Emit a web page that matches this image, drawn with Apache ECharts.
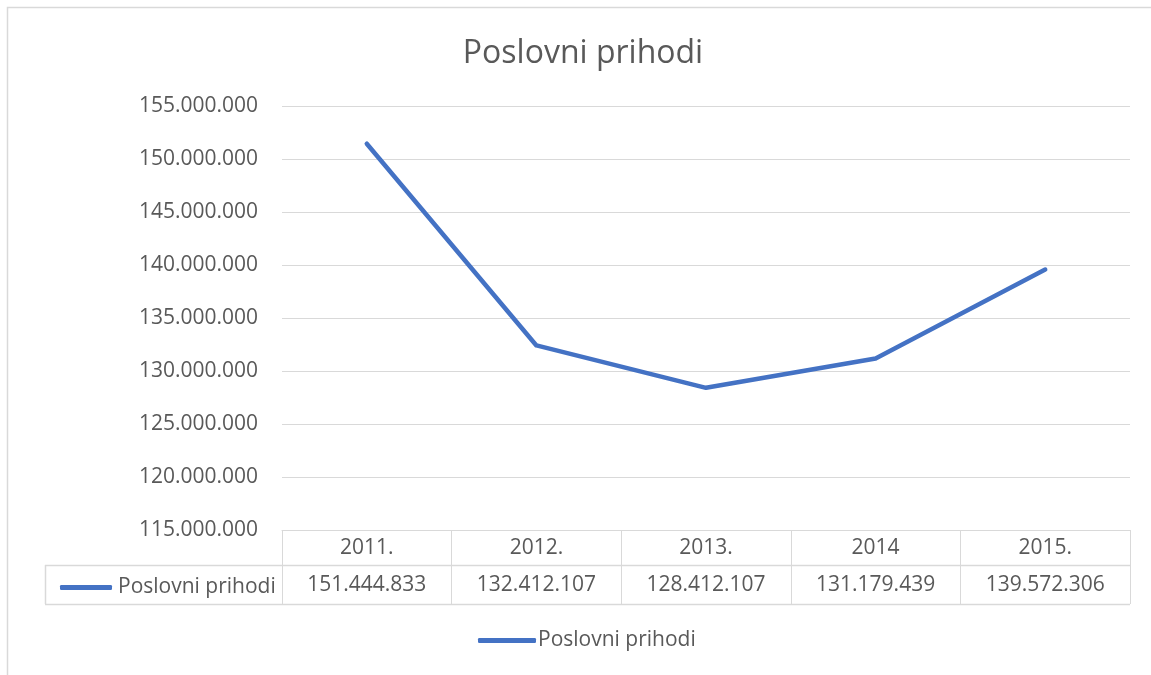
<!DOCTYPE html>
<html>
<head>
<meta charset="utf-8">
<script src="https://cdn.jsdelivr.net/npm/echarts@6/dist/echarts.min.js"></script>
<style>
  html, body { margin: 0; padding: 0; background: #fff; }
  #chart { width: 1151px; height: 675px; }
</style>
</head>
<body>
<div id="chart"></div>
<script>
const seriesName = "Poslovni prihodi";
const years = ["2011.", "2012.", "2013.", "2014", "2015."];
const values = [151444833, 132412107, 128412107, 131179439, 139572306];
const yMin = 115000000;
const yMax = 155000000;
const yStep = 5000000;

const FONT = "'Open Sans', 'Noto Sans', sans-serif";
const TEXT = "#595959";
const RULE = "#d9d9d9";
const BLUE = "#4472C4";
const FS = 21;

// 151444833 -> "151.444.833"
const dots = (v) => String(Math.round(v)).replace(/\B(?=(\d{3})+(?!\d))/g, ".");

// layout of the plot area (px)
const G = { left: 282, right: 21, top: 106, bottom: 145 };
const plotRight = 1151 - G.right;
const axisY = 675 - G.bottom;
const row1 = axisY + 35;
const row2 = axisY + 74;
const tableLeft = 45;

const chart = echarts.init(document.getElementById("chart"), null, { renderer: "canvas" });

chart.setOption({
  animation: false,
  backgroundColor: "#fff",
  textStyle: { fontFamily: FONT },
  title: {
    text: seriesName,
    left: 578,
    textAlign: "center",
    top: 33,
    textStyle: { fontSize: 32, fontWeight: "normal", color: TEXT, fontFamily: FONT },
  },
  grid: { left: G.left, right: G.right, top: G.top, bottom: G.bottom, containLabel: false },
  legend: [
    {
      data: [seriesName],
      bottom: 19,
      left: 473,
      icon: "roundRect",
      itemWidth: 58,
      itemHeight: 5,
      textStyle: { fontSize: FS, color: TEXT, fontFamily: FONT, padding: [0, 0, 0, -3] },
      selectedMode: false,
    },
    {
      data: [seriesName],
      top: row1 + 7,
      left: 55,
      icon: "roundRect",
      itemWidth: 52,
      itemHeight: 5,
      textStyle: { fontSize: FS, color: TEXT, fontFamily: FONT, padding: [0, 0, 0, 1] },
      selectedMode: false,
    },
  ],
  xAxis: [
    {
      type: "category",
      data: years,
      boundaryGap: true,
      axisLine: { show: true, lineStyle: { color: RULE, width: 1 } },
      axisTick: { show: true, length: 74, interval: 0, lineStyle: { color: RULE, width: 1 } },
      axisLabel: { color: TEXT, fontSize: FS, fontFamily: FONT, margin: 7, lineHeight: 22, interval: 0 },
      splitLine: { show: false },
    },
    {
      type: "category",
      data: values.map(dots),
      position: "bottom",
      offset: 35,
      axisLine: { show: false },
      axisTick: { show: false },
      axisLabel: { color: TEXT, fontSize: FS, fontFamily: FONT, margin: 9, lineHeight: 22, interval: 0 },
    },
  ],
  yAxis: {
    type: "value",
    min: yMin,
    max: yMax,
    interval: yStep,
    axisLine: { show: false },
    axisTick: { show: false },
    axisLabel: { color: TEXT, fontSize: FS, fontFamily: FONT, margin: 24, formatter: dots },
    splitLine: { lineStyle: { color: RULE, width: 1 } },
  },
  series: [
    {
      name: seriesName,
      type: "line",
      data: values,
      showSymbol: false,
      symbol: "none",
      lineStyle: { color: BLUE, width: 4.5, cap: "round", join: "round" },
      itemStyle: { color: BLUE },
    },
  ],
  graphic: [
    // chart frame
    { type: "rect", shape: { x: 7.5, y: 7.5, width: 1300, height: 1000 }, style: { fill: null, stroke: RULE, lineWidth: 1.5 }, silent: true },
    // data table rules
    { type: "line", shape: { x1: tableLeft, y1: row1 + 0.5, x2: plotRight, y2: row1 + 0.5 }, style: { stroke: RULE, lineWidth: 1.5 }, silent: true },
    { type: "line", shape: { x1: tableLeft, y1: row2 + 0.5, x2: plotRight, y2: row2 + 0.5 }, style: { stroke: RULE, lineWidth: 1.5 }, silent: true },
    { type: "line", shape: { x1: tableLeft + 0.5, y1: row1, x2: tableLeft + 0.5, y2: row2 }, style: { stroke: RULE, lineWidth: 1.5 }, silent: true },
  ],
});
</script>
</body>
</html>
